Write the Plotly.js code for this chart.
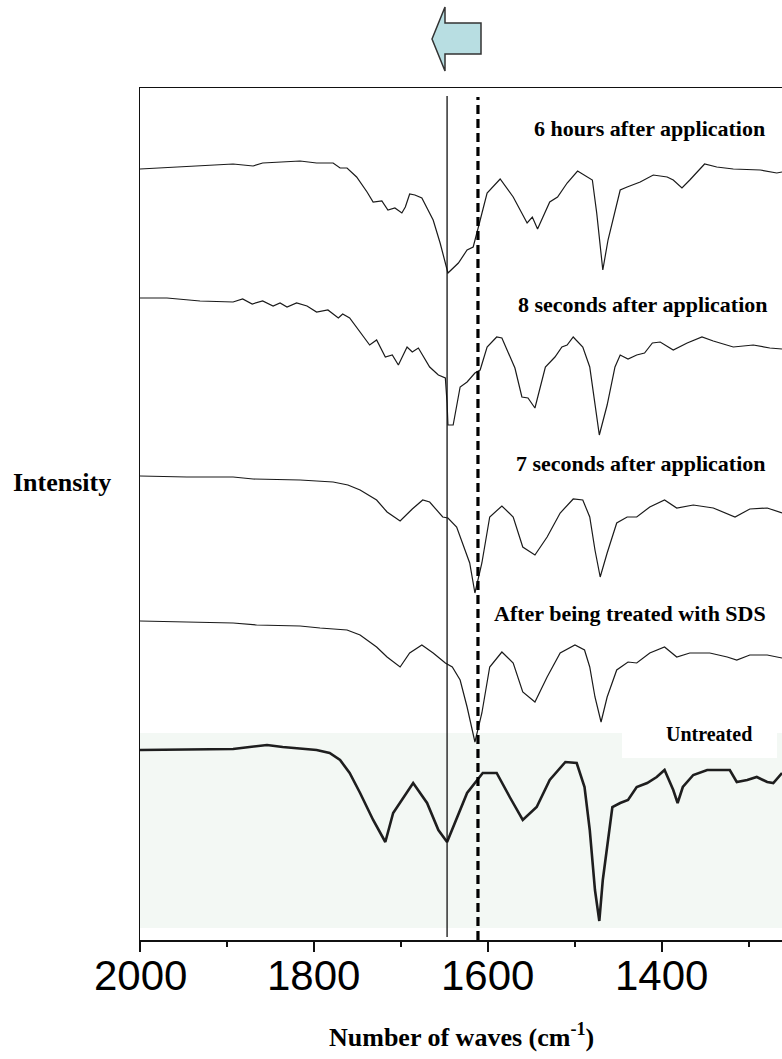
<!DOCTYPE html>
<html>
<head>
<meta charset="utf-8">
<script src="https://cdn.plot.ly/plotly-3.0.1.min.js"></script>
<style>
  html, body { margin:0; padding:0; background:#fff; }
  #chart { width:782px; height:1059px; }
</style>
</head>
<body>
<div id="chart"></div>
<script>
// ---------- data (wavenumber in cm-1, intensity in arbitrary offset units) ----------
const wn6h  = [2000,1980,1931,1893,1870,1859,1816,1797,1778,1770,1762,1751,1739,1732,1722,1715,1707,1699,1695,1690,1684,1676,1663,1655,1646,1634,1624,1617,1611,1601,1586,1571,1555,1549,1543,1529,1520,1509,1497,1480,1475,1468,1462,1448,1440,1425,1410,1394,1387,1377,1368,1351,1337,1318,1287,1268,1262];
const int6h = [771,772,774,776,774,777,779,777,777,772,772,763,748,738,739,730,732,727,733,746,745,742,720,697,667,677,690,693,713,747,761,743,717,723,711,738,743,757,769,760,727,670,700,750,753,758,765,763,760,752,760,776,773,771,770,767,768];

const wn8s  = [2000,1969,1931,1893,1882,1871,1859,1847,1839,1831,1820,1808,1797,1784,1772,1767,1759,1747,1736,1728,1718,1710,1703,1693,1687,1680,1667,1657,1649,1647,1646,1640,1632,1624,1615,1609,1601,1590,1584,1569,1561,1554,1546,1534,1523,1515,1509,1502,1491,1483,1477,1472,1463,1454,1448,1439,1429,1420,1411,1402,1387,1371,1354,1341,1318,1295,1276,1262];
const int8s = [642,642,639,638,641,636,639,634,637,633,637,634,628,630,622,626,622,608,595,600,583,585,575,593,588,592,573,565,562,537,515,515,553,558,567,570,593,603,602,572,543,542,532,573,583,593,595,603,593,573,537,505,535,573,585,581,585,587,597,598,590,597,603,599,593,595,592,591];

const wn7s  = [2000,1946,1893,1870,1816,1778,1761,1747,1728,1716,1701,1687,1675,1667,1652,1646,1636,1629,1621,1615,1607,1598,1584,1571,1560,1546,1532,1517,1502,1491,1483,1477,1471,1463,1452,1440,1429,1414,1397,1383,1364,1341,1316,1299,1279,1262];
const int7s = [464,463,463,461,460,458,455,450,440,428,419,431,440,438,423,422,413,397,377,347,377,423,434,423,393,385,403,427,441,440,423,390,363,387,417,423,423,433,440,432,435,432,423,431,432,427];

const wnSDS  = [2000,1931,1893,1866,1816,1793,1762,1747,1728,1716,1701,1690,1676,1663,1649,1641,1632,1624,1615,1607,1598,1584,1571,1560,1546,1532,1517,1500,1489,1483,1477,1470,1463,1452,1439,1429,1414,1397,1383,1368,1345,1325,1314,1299,1279,1262];
const intSDS = [319,318,317,315,314,312,310,305,293,283,273,287,295,287,277,273,260,233,198,227,273,288,277,248,238,263,287,295,290,273,243,218,243,270,278,277,287,293,283,287,287,283,280,285,285,282];

const wnUnt  = [2000,1893,1874,1854,1836,1797,1782,1770,1759,1747,1732,1718,1709,1686,1670,1657,1647,1624,1606,1590,1575,1560,1544,1529,1511,1498,1489,1483,1477,1472,1468,1463,1457,1448,1439,1429,1417,1406,1397,1387,1382,1376,1364,1348,1322,1314,1302,1291,1279,1272,1262];
const intUnt = [190,191,193,195,193,190,187,180,167,147,120,98,127,157,137,110,98,147,167,167,143,120,133,160,178,177,153,110,50,19,60,95,133,137,140,153,157,163,170,150,137,153,165,170,170,158,160,163,158,157,167];

const seriesLabels = ["6 hours after application","8 seconds after application","7 seconds after application","After being treated with SDS","Untreated"];
const tickVals  = [2000,1800,1600,1400];
const tickText  = ["2000","1800","1600","1400"];
const minorTickVals = [1900,1700,1500,1300];
const markerLines = [1647, 1611.5];   // solid, dashed reference wavenumbers
const xRange = [2000, 1262];
const yRange = [0, 852];

// ---------- layout helpers (pixel -> paper) ----------
const L = 140, R = 782, T = 88, B = 940;
const PX = x => (x - L) / (R - L);
const PY = y => (B - y) / (B - T);

const thin = {color:'#1a1a1a', width:1.2};
const traces = [
  {x:wn6h, y:int6h, mode:'lines', line:thin, name:seriesLabels[0]},
  {x:wn8s, y:int8s, mode:'lines', line:thin, name:seriesLabels[1]},
  {x:wn7s, y:int7s, mode:'lines', line:thin, name:seriesLabels[2]},
  {x:wnSDS, y:intSDS, mode:'lines', line:thin, name:seriesLabels[3]},
  {x:wnUnt, y:intUnt, mode:'lines', line:{color:'#1e1e1e', width:2.6}, name:seriesLabels[4]}
];

const serif = 'Liberation Serif, Times New Roman, serif';
function lab(text, cx, cy, size){
  return {text:'<b>'+text+'</b>', xref:'paper', yref:'paper', x:PX(cx), y:PY(cy),
          xanchor:'center', yanchor:'middle', showarrow:false,
          font:{family:serif, size:size, color:'#000'}};
}

// tick labels placed under the axis at the tick values
const tickLabelAnns = tickVals.map((v, i) => ({
  xref:'x', yref:'paper', x:v, y:PY(950), xanchor:'center', yanchor:'top', showarrow:false,
  text:tickText[i], font:{family:'Liberation Sans, Arial, sans-serif', size:42, color:'#000'}
}));

const arrowPath = 'M ' + PX(432) + ',' + PY(39) +
  ' L ' + PX(445) + ',' + PY(7) +
  ' L ' + PX(445) + ',' + PY(23) +
  ' L ' + PX(481) + ',' + PY(23) +
  ' L ' + PX(481) + ',' + PY(54) +
  ' L ' + PX(445) + ',' + PY(54) +
  ' L ' + PX(445) + ',' + PY(71) + ' Z';

const layout = {
  width:782, height:1059,
  margin:{l:L, r:0, t:T, b:1059-B, pad:0},
  paper_bgcolor:'#fff', plot_bgcolor:'rgba(0,0,0,0)',
  showlegend:false,
  xaxis:{
    range:xRange, showline:true, mirror:true, linecolor:'#111', linewidth:1.5,
    ticks:'outside', ticklen:10, tickwidth:1.5, tickcolor:'#111',
    tickmode:'array', tickvals:tickVals, showticklabels:false,
    minor:{tickmode:'array', tickvals:minorTickVals, ticks:'outside', ticklen:5, tickwidth:1.5, tickcolor:'#111', showgrid:false},
    showgrid:false, zeroline:false
  },
  yaxis:{
    range:yRange, showline:true, linecolor:'#111', linewidth:1.5,
    ticks:'', showticklabels:false, showgrid:false, zeroline:false
  },
  shapes:[
    {type:'rect', xref:'paper', yref:'paper', x0:0, x1:1, y0:PY(928), y1:PY(733),
     fillcolor:'rgb(243,248,244)', line:{width:0}, layer:'below'},
    {type:'rect', xref:'paper', yref:'paper', x0:PX(622), x1:PX(777), y0:PY(758), y1:PY(733),
     fillcolor:'#fff', line:{width:0}, layer:'below'},
    {type:'line', xref:'x', yref:'paper', x0:markerLines[0], x1:markerLines[0], y0:PY(937), y1:PY(96),
     line:{color:'#111', width:1.3}},
    {type:'line', xref:'x', yref:'paper', x0:markerLines[1], x1:markerLines[1], y0:PY(940), y1:PY(97),
     line:{color:'#000', width:3.2, dash:'9px,5px'}},
    {type:'path', xref:'paper', yref:'paper', path:arrowPath,
     fillcolor:'rgb(184,222,226)', line:{color:'#333', width:1.5}}
  ],
  annotations:[
    lab(seriesLabels[0], 649, 128, 22),
    lab(seriesLabels[1], 643, 304, 22),
    lab(seriesLabels[2], 641, 463, 22),
    lab(seriesLabels[3], 630, 614, 22),
    lab(seriesLabels[4], 709, 734, 20),
    lab('Intensity', 62, 482, 26),
    ...tickLabelAnns,
    {xref:'paper', yref:'paper', x:0.5, y:PY(1054), xanchor:'center', yanchor:'bottom', showarrow:false,
     text:'<b>Number of waves (cm<sup>-1</sup>)</b>', font:{family:serif, size:26, color:'#000'}}
  ]
};

Plotly.newPlot('chart', traces, layout, {staticPlot:true, displayModeBar:false});
</script>
</body>
</html>
